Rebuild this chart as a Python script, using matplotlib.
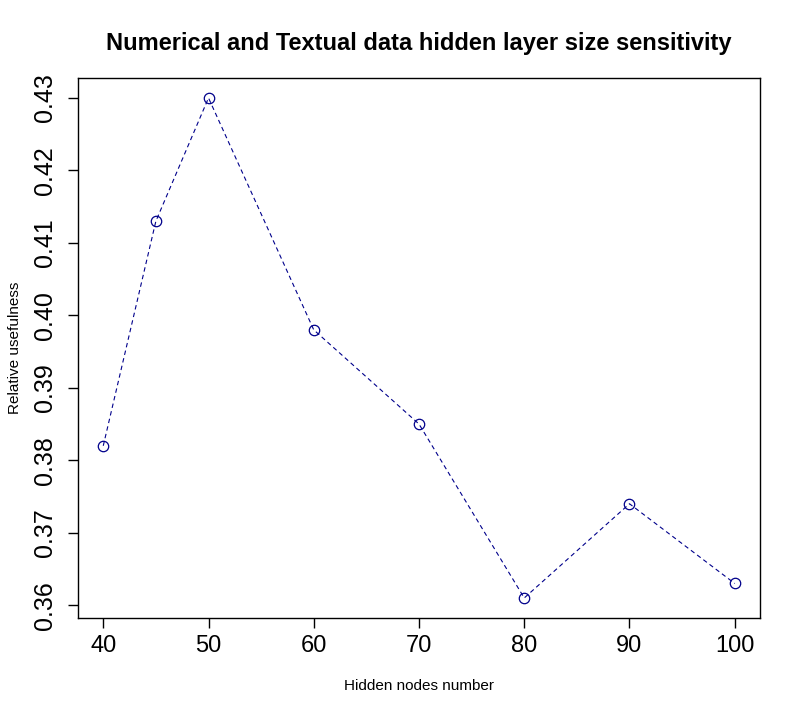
import matplotlib
matplotlib.use("Agg")
import matplotlib.pyplot as plt

plt.rcParams['font.family'] = ['Liberation Sans', 'DejaVu Sans']

hidden_nodes = [40, 45, 50, 60, 70, 80, 90, 100]
usefulness = [0.382, 0.413, 0.430, 0.398, 0.385, 0.361, 0.374, 0.363]
xticks = [40, 50, 60, 70, 80, 90, 100]
yticks = [0.36, 0.37, 0.38, 0.39, 0.40, 0.41, 0.42, 0.43]

fig = plt.figure(figsize=(8, 7.15), dpi=100)
ax = fig.add_axes([0.0975, 0.1357, 0.8525, 0.7553])

ax.plot(hidden_nodes, usefulness, color='#00008B', linestyle=(0, (4, 3)), linewidth=0.8,
        marker='o', markersize=7.5, markerfacecolor='none', markeredgecolor='#00008B',
        markeredgewidth=0.9)

# R style 4% padding
xr = max(hidden_nodes) - min(hidden_nodes)
yr = max(usefulness) - min(usefulness)
ax.set_xlim(min(hidden_nodes) - 0.04 * xr, max(hidden_nodes) + 0.04 * xr)
ax.set_ylim(min(usefulness) - 0.04 * yr, max(usefulness) + 0.04 * yr)

ax.set_xticks(xticks)
ax.set_xticklabels([str(v) for v in xticks])
ax.set_yticks(yticks)
ax.set_yticklabels(['%.2f' % v for v in yticks], rotation=90, va='center')
ax.tick_params(axis='both', length=7, width=1)
ax.tick_params(axis='x', labelsize=17, pad=5)
ax.tick_params(axis='y', labelsize=18, pad=8)

for s in ax.spines.values():
    s.set_linewidth(1)

ax.set_title('Numerical and Textual data hidden layer size sensitivity',
             fontsize=17, fontweight='bold', pad=20)
ax.set_xlabel('Hidden nodes number', fontsize=11, labelpad=16)
ax.set_ylabel('Relative usefulness', fontsize=11, labelpad=8)

fig.savefig('out.png', dpi=100)
